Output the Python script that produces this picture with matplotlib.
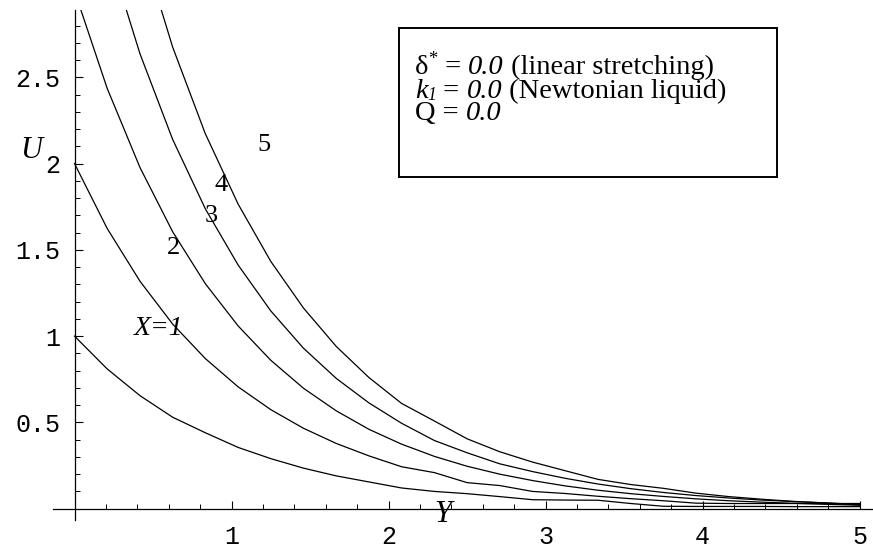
import matplotlib
matplotlib.use("Agg")
import matplotlib.pyplot as plt
from matplotlib.patches import Rectangle

# similarity variable Y (grid)
Y = [0.0, 0.208, 0.417, 0.625, 0.833, 1.042, 1.25, 1.458, 1.667, 1.875,
     2.083, 2.292, 2.5, 2.708, 2.917, 3.125, 3.333, 3.542, 3.75, 3.958,
     4.167, 4.375, 4.583, 4.792, 5.0]

U_X1 = [1.0, 0.81, 0.655, 0.53, 0.44, 0.355, 0.29, 0.235, 0.19, 0.155,
        0.12, 0.10, 0.087, 0.07, 0.052, 0.05, 0.049, 0.03, 0.014, 0.013,
        0.013, 0.013, 0.012, 0.012, 0.012]
U_X2 = [2.0, 1.624, 1.318, 1.07, 0.87, 0.706, 0.574, 0.466, 0.378, 0.306,
        0.243, 0.209, 0.151, 0.134, 0.10, 0.088, 0.072, 0.058, 0.046, 0.032,
        0.03, 0.03, 0.03, 0.03, 0.03]
U_X3 = [3.0, 2.436, 1.977, 1.605, 1.304, 1.059, 0.86, 0.698, 0.567, 0.46,
        0.374, 0.303, 0.246, 0.2, 0.163, 0.132, 0.107, 0.087, 0.071, 0.057,
        0.046, 0.038, 0.031, 0.025, 0.02]
U_X4 = [4.0, 3.248, 2.636, 2.14, 1.738, 1.412, 1.146, 0.93, 0.755, 0.613,
        0.495, 0.395, 0.324, 0.26, 0.215, 0.176, 0.143, 0.116, 0.094, 0.076,
        0.062, 0.05, 0.041, 0.033, 0.022]
U_X5 = [5.0, 4.06, 3.295, 2.675, 2.173, 1.765, 1.433, 1.163, 0.94, 0.76,
        0.61, 0.508, 0.405, 0.33, 0.27, 0.22, 0.17, 0.14, 0.118, 0.09,
        0.07, 0.055, 0.042, 0.033, 0.025]

series = [U_X1, U_X2, U_X3, U_X4, U_X5]

x_ticks = [1, 2, 3, 4, 5]
x_ticklabels = ['1', '2', '3', '4', '5']
y_ticks = [0.5, 1.0, 1.5, 2.0, 2.5]
y_ticklabels = ['0.5', '1', '1.5', '2', '2.5']

curve_labels = ['X=1', '2', '3', '4', '5']
curve_label_pos = [(0.537, 1.047), (0.629, 1.51), (0.871, 1.696), (0.932, 1.875), (1.206, 2.107)]

W, H = 873, 550
fig = plt.figure(figsize=(W / 100, H / 100), dpi=100)
ax = fig.add_axes([53 / W, (H - 519.9) / H, (W - 53) / W, (519.9 - 10) / H])
ax.set_xlim(-0.137, 5.085)
ax.set_ylim(-0.065, 2.89)

for s in series:
    ax.plot(Y, s, color='black', lw=0.9)

for sp in ['top', 'right']:
    ax.spines[sp].set_visible(False)
ax.spines['left'].set_position(('data', 0))
ax.spines['bottom'].set_position(('data', 0))
ax.spines['left'].set_linewidth(0.9)
ax.spines['bottom'].set_linewidth(0.9)

ax.set_xticks(x_ticks)
ax.set_xticklabels(x_ticklabels)
ax.set_yticks(y_ticks)
ax.set_yticklabels(y_ticklabels)
ax.set_xticks([i * 0.2 for i in range(1, 25) if i % 5 != 0], minor=True)
ax.set_yticks([i * 0.1 for i in range(1, 29) if i % 5 != 0], minor=True)
ax.tick_params(which='major', direction='in', length=6, width=0.8)
ax.tick_params(which='minor', direction='in', length=3.5, width=0.7)
ax.tick_params(axis='x', which='major', pad=12)
ax.tick_params(axis='y', which='major', pad=10)
for lab in ax.get_xticklabels() + ax.get_yticklabels():
    lab.set_fontfamily('Liberation Mono')
    lab.set_fontsize(18)

serif = 'Liberation Serif'
for lab, (xp, yp) in zip(curve_labels, curve_label_pos):
    if lab.startswith('X'):
        ax.text(xp, yp, lab, fontsize=20, family=serif, style='italic', ha='center', va='center')
    else:
        ax.text(xp, yp, lab, fontsize=19, family=serif, ha='center', va='center')

ax.text(-0.278, 2.077, 'U', fontsize=22, family=serif, style='italic', ha='center', va='center', clip_on=False)
ax.text(2.346, -0.031, 'Y', fontsize=22, family=serif, style='italic', ha='center', va='center', clip_on=False)

# info box
fig.patches.append(Rectangle((399 / W, (H - 177) / H), 378 / W, 149 / H, transform=fig.transFigure,
                             fill=False, edgecolor='black', lw=1.4))

renderer = fig.canvas.get_renderer()
FS = 20.5


def rich_line(x_px, base_px, parts):
    x = x_px
    for txt, style, size, dy in parts:
        t = fig.text(x / W, (H - base_px + dy) / H, txt, fontsize=size, family=serif,
                     style=style, va='baseline', ha='left')
        bb = t.get_window_extent(renderer)
        x += bb.width


line1 = [('δ', 'normal', FS, 0), ('*', 'normal', FS * 0.65, 10), (' = ', 'normal', FS, 0),
         ('0.0', 'italic', FS, 0), (' (linear stretching)', 'normal', FS, 0)]
line2 = [('k', 'italic', FS, 0), ('1', 'italic', FS * 0.62, -3), (' = ', 'normal', FS, 0),
         ('0.0', 'italic', FS, 0), (' (Newtonian liquid)', 'normal', FS, 0)]
line3 = [('Q = ', 'normal', FS, 0), ('0.0', 'italic', FS, 0)]

rich_line(415, 74, line1)
rich_line(415, 97.5, line2)
rich_line(415, 120, line3)

fig.savefig('out.png', dpi=100)
